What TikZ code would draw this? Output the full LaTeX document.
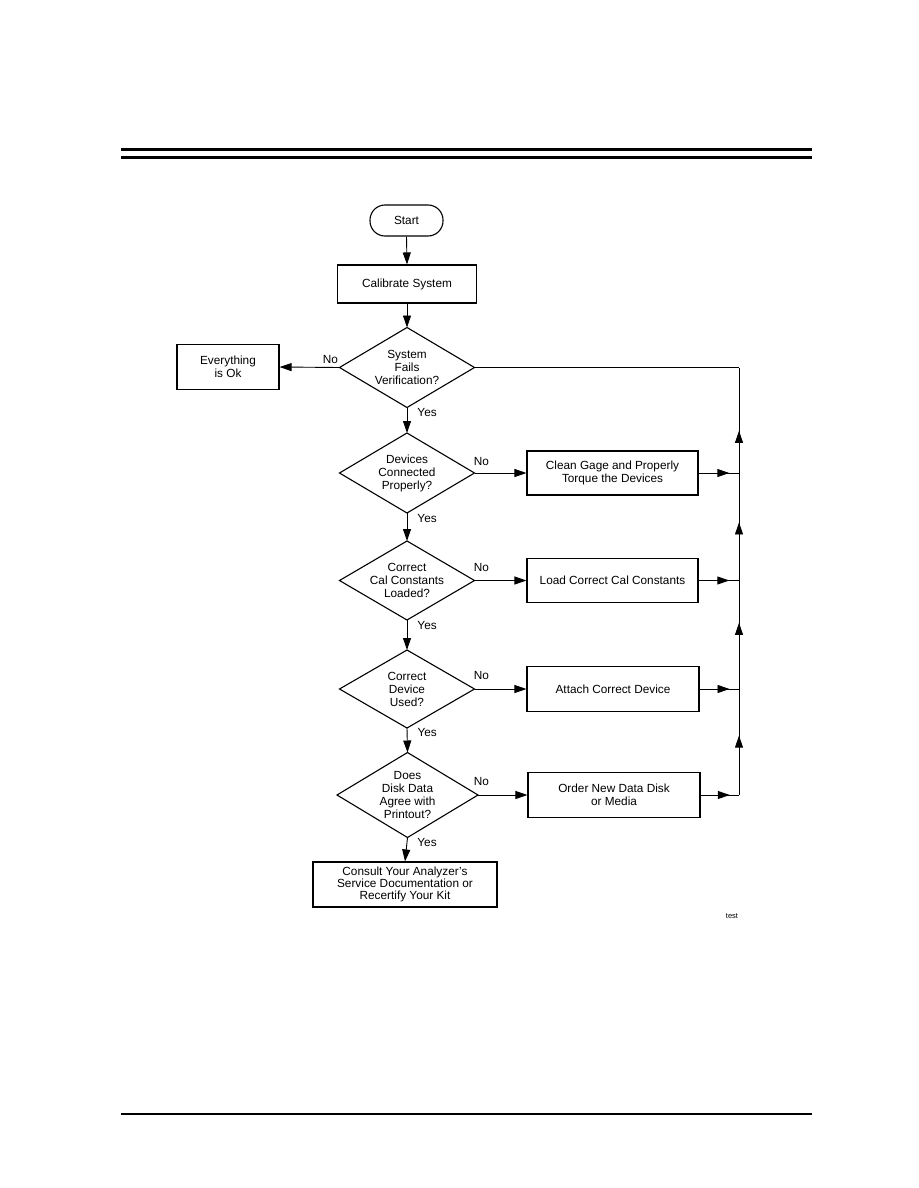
\documentclass[tikz,border=0pt]{standalone}
\usepackage{fontspec}
\setmainfont{Liberation Sans}
\usetikzlibrary{arrows.meta,shapes.geometric,decorations.markings}
\begin{document}
\begin{tikzpicture}[x=1pt,y=-1pt,
  every node/.style={font=\fontsize{11.8}{13}\selectfont},
  box/.style={draw, line width=1.1pt, rectangle, inner sep=0pt, align=center},
  term/.style={box, rounded corners=15pt},
  dia/.style={draw, line width=1.1pt, diamond, inner sep=0pt, outer sep=0pt},
  dlbl/.style={align=center, inner sep=0pt},
  conn/.style={line width=0.9pt},
  arr/.style={conn, -{Triangle[length=12pt,width=8pt]}},
  midarr/.style={conn, postaction={decorate}, decoration={markings, mark=at position #1 with {\arrow{Triangle[length=12pt,width=8pt]}}}},
  yeslbl/.style={anchor=west, inner sep=0pt, xshift=10pt},
  nolbl/.style={anchor=south west, inner sep=0pt, pos=0},
]
\useasboundingbox (0,0) rectangle (918,1188);

% page rules
\draw[line width=3pt] (121,149.5) -- (812,149.5);
\draw[line width=2.5pt] (121,157.5) -- (812,157.5);
\draw[line width=2.5pt] (121,1114) -- (812,1114);

% nodes
\node[term, minimum width=73pt, minimum height=31pt] (start) at (406.5,220.5) {Start};
\node[box, minimum width=139pt, minimum height=38pt] (calib) at (407,284) {Calibrate System};

\node[dia, minimum width=135pt, minimum height=80pt,
  label={[dlbl]center:System\\Fails\\Verification?}] (d1) at (407,367.5) {};
\node[box, minimum width=102pt, minimum height=45pt] (ok) at (228,367) {Everything\\is Ok};

\node[dia, minimum width=135pt, minimum height=80pt,
  label={[dlbl]center:Devices\\Connected\\Properly?}] (d2) at (407,473) {};
\node[box, minimum width=171pt, minimum height=44pt] (clean) at (612.5,473) {Clean Gage and Properly\\Torque the Devices};

\node[dia, minimum width=135pt, minimum height=79pt,
  label={[dlbl]center:Correct\\Cal Constants\\Loaded?}] (d3) at (407,580.5) {};
\node[box, minimum width=171pt, minimum height=44pt] (load) at (612.5,580.5) {Load Correct Cal Constants};

\node[dia, minimum width=135pt, minimum height=78pt,
  label={[dlbl]center:Correct\\Device\\Used?}] (d4) at (407,689) {};
\node[box, minimum width=172pt, minimum height=45pt] (attach) at (613,689) {Attach Correct Device};

\node[dia, minimum width=141pt, minimum height=85pt,
  label={[dlbl]center:Does\\Disk Data\\Agree with\\Printout?}] (d5) at (407.5,795) {};
\node[box, minimum width=172pt, minimum height=45pt] (order) at (614,795) {Order New Data Disk\\or Media};

\node[box, minimum width=184pt, minimum height=45pt, font=\fontsize{11.8}{12.2}\selectfont] (consult) at (405,884.5)
  {Consult Your Analyzer's\\Service Documentation or\\Recertify Your Kit};

\node[font=\fontsize{7.5}{9}\selectfont] (test) at (732,916.5) {test};

% junctions on the return line
\coordinate (j1) at (739,367.5);
\coordinate (j2) at (739,473);
\coordinate (j3) at (739,580.5);
\coordinate (j4) at (739,689);
\coordinate (j5) at (739,795);

% main flow
\draw[arr] (start.south) -- (calib.north);
\draw[arr] (calib.south) -- (d1.north);
\draw[arr] (d1.south) -- node[yeslbl, pos=0.18] {Yes} (d2.north);
\draw[arr] (d2.south) -- node[yeslbl, pos=0.18] {Yes} (d3.north);
\draw[arr] (d3.south) -- node[yeslbl, pos=0.17] {Yes} (d4.north);
\draw[arr] (d4.south) -- node[yeslbl, pos=0.2] {Yes} (d5.north);
\draw[arr] (d5.south) -- node[yeslbl, pos=0.22] {Yes} (consult.north);

% No branches
\draw[arr] (d1.west) -- node[anchor=south east, inner sep=0pt, pos=0, xshift=-1pt, yshift=3.3pt] {No} (ok.east);
\draw[arr] (d2.east) -- node[nolbl, xshift=-1pt, yshift=6.8pt] {No} (clean.west);
\draw[arr] (d3.east) -- node[nolbl, xshift=-1pt, yshift=8.3pt] {No} (load.west);
\draw[arr] (d4.east) -- node[nolbl, xshift=-1pt, yshift=8.8pt] {No} (attach.west);
\draw[arr] (d5.east) -- node[nolbl, xshift=-4.5pt, yshift=8.8pt] {No} (order.west);

% return line
\draw[conn] (d1.east) -- (j1);
\draw[midarr=0.76] (clean.east) -- (j2);
\draw[midarr=0.76] (load.east) -- (j3);
\draw[midarr=0.76] (attach.east) -- (j4);
\draw[midarr=0.76] (order.east) -- (j5);
\draw[midarr=0.40] (j2) -- (j1);
\draw[midarr=0.54] (j3) -- (j2);
\draw[midarr=0.61] (j4) -- (j3);
\draw[midarr=0.56] (j5) -- (j4);
\end{tikzpicture}
\end{document}
